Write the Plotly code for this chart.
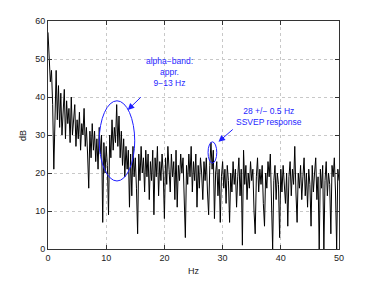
import plotly.graph_objects as go

# Spectrum values (dB), 0.2 Hz resolution from 0 to 50 Hz
freq_step = 0.2
db_values = [
    57, 52, 44, 47, 38,   21, 40, 47, 34, 43,   32, 41, 30, 38, 42,   29, 39, 33, 37, 28,
    40, 30, 35, 38, 27,   34, 29, 36, 26, 33,   30, 37, 27, 32, 25,   16, 31, 24, 33, 26,
    31, 23, 29, 21, 32,   25, 30, 7, 28, 20,    27, 22, 9, 30, 24,    34, 26, 32, 28, 38,
    27, 35, 24, 31, 22,   29, 19, 27, 21, 26,   11, 25, 14, 27, 19,   24, 16, 4, 25, 18,
    27, 20, 24, 15, 26,   19, 25, 13, 23, 18,   26, 9, 24, 19, 27,    14, 23, 18, 25, 20,
    8, 24, 17, 27, 21,    15, 25, 19, 23, 13,   26, 11, 22, 18, 25,   20, 24, 12, 3, 22,
    17, 25, 19, 27, 15,   23, 18, 25, 11, 22,   16, 24, 20, 13, 23,   18, 24, 15, 9, 22,
    28, 21, 26, 8, 20,    23, 14, 21, 7, 19,    23, 16, 21, 12, 22,   18, 7, 20, 15, 23,
    17, 21, 11, 19, 24,   14, 21, 1, 26, 17,    22, 13, 20, 16, 23,   18, 21, 10, 4, 19,
    24, 15, 21, 17, 22,   12, 6, 20, 16, 23,    19, 25, 14, 0, 18,    22, 13, 20, 17, 3,
    21, 15, 22, 18, 12,   20, 6, 19, 23, 14,    21, 17, 27, 15, 7,    20, 16, 22, 13, 19,
    24, 14, 20, 11, 21,   17, 6, 22, 15, 20,    24, 13, 19, 0, 21,    16, 22, 0, 18, 23,
    14, 20, 17, 4, 22,    19, 24, 15, 0, 21,    18,
]
freqs = [round(i * freq_step, 1) for i in range(len(db_values))]

x_ticks = [0, 10, 20, 30, 40, 50]
y_ticks = [0, 10, 20, 30, 40, 50, 60]

alpha_label = "alpha\u2212band:<br>appr.<br>9\u221213 Hz"
ssvep_label = "28 +/\u2212 0.5 Hz<br>SSVEP response"

blue = "#1f1fff"
font_family = "Liberation Sans, Arial, Helvetica, sans-serif"

fig = go.Figure()
fig.add_trace(go.Scatter(x=freqs, y=db_values, mode="lines",
                         line=dict(color="black", width=1.0), showlegend=False))

# ellipses
fig.add_shape(type="circle", xref="x", yref="y", x0=8.8, x1=14.9, y0=17.9, y1=39.0,
              line=dict(color=blue, width=1))
fig.add_shape(type="circle", xref="x", yref="y", x0=27.5, x1=29.0, y0=22.6, y1=28.2,
              line=dict(color=blue, width=1))

# arrows
fig.add_annotation(x=13.7, y=36.6, ax=16.2, ay=40.3, xref="x", yref="y", axref="x", ayref="y",
                   text="", showarrow=True, arrowhead=2, arrowsize=1.3, arrowwidth=1, arrowcolor=blue)
fig.add_annotation(x=29.3, y=28.2, ax=32.0, ay=31.8, xref="x", yref="y", axref="x", ayref="y",
                   text="", showarrow=True, arrowhead=2, arrowsize=1.3, arrowwidth=1, arrowcolor=blue)

# labels
fig.add_annotation(x=20.8, y=46.7, xref="x", yref="y", text=alpha_label, showarrow=False,
                   font=dict(family=font_family, size=8.5, color=blue), align="center")
fig.add_annotation(x=37.9, y=34.9, xref="x", yref="y", text=ssvep_label, showarrow=False,
                   font=dict(family=font_family, size=8.5, color=blue), align="center")

# axis titles
fig.add_annotation(x=0.5, y=-0.065, xref="paper", yref="paper", text="Hz", showarrow=False,
                   yanchor="top", font=dict(family=font_family, size=9, color="#222222"))
fig.add_annotation(x=-0.062, y=0.5, xref="paper", yref="paper", text="dB", showarrow=False,
                   textangle=-90, xanchor="right", font=dict(family=font_family, size=9, color="#222222"))

axis_common = dict(
    showline=True, linecolor="#333333", linewidth=1, mirror="allticks",
    ticks="inside", ticklen=4, tickcolor="#333333", automargin=False,
    showgrid=True, gridcolor="#c8c8c8", griddash="dot", gridwidth=1,
    zeroline=False, tickfont=dict(family=font_family, size=9, color="#222222"),
)

fig.update_xaxes(range=[0, 50], tickvals=x_ticks, **axis_common)
fig.update_yaxes(range=[0, 60], tickvals=y_ticks, **axis_common)

fig.update_layout(width=366, height=273, margin=dict(l=40, r=35, t=13, b=32),
                  paper_bgcolor="white", plot_bgcolor="white", showlegend=False)

fig.write_html("out.html")
